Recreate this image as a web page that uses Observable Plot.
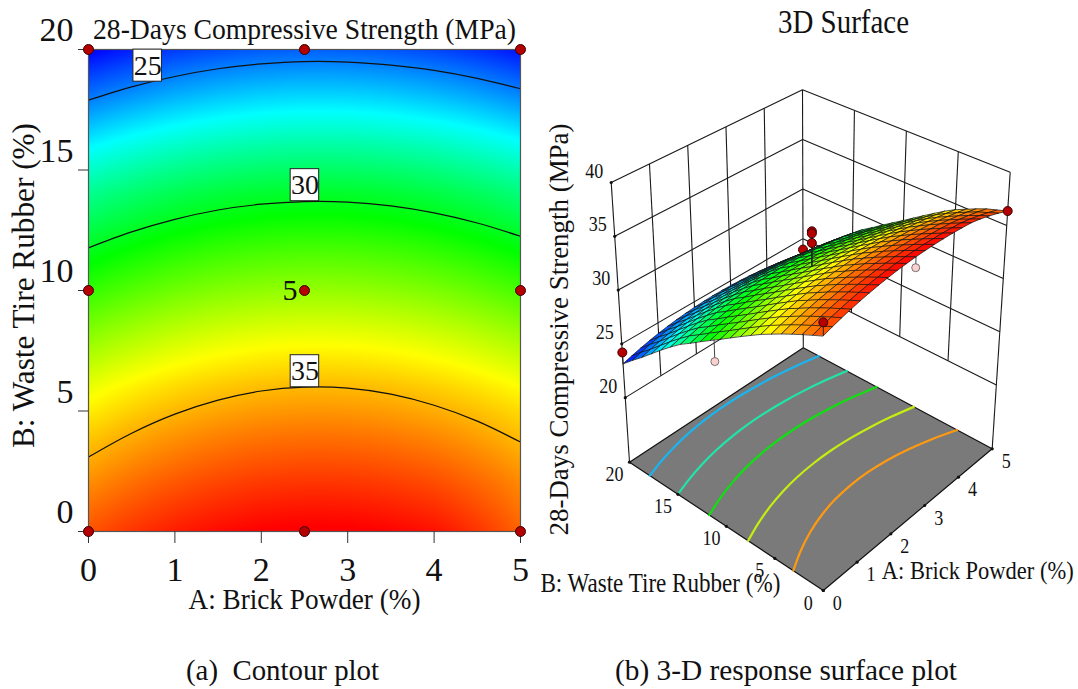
<!DOCTYPE html>
<html>
<head>
<meta charset="utf-8">
<script src="https://cdn.jsdelivr.net/npm/d3@7"></script>
<script src="https://cdn.jsdelivr.net/npm/@observablehq/plot@0.6"></script>
<style>
html,body{margin:0;padding:0;background:#fff}
#stage{position:relative;width:1078px;height:689px;overflow:hidden;font-family:'Liberation Serif',serif;color:#111}
#left,#right{position:absolute;top:0}
#left{left:0}#right{left:540px}
.cap{position:absolute;top:654px;font-size:29px;line-height:32px;white-space:pre;transform-origin:left top}
</style>
</head>
<body>
<div id="stage"><div id="left"></div><div id="right"></div>
<div class="cap" id="capA">(a)  Contour plot</div>
<div class="cap" id="capB">(b) 3-D response surface plot</div></div>
<script>
// ---- data ----
const brickLevels = [0,0.25,0.5,0.75,1,1.25,1.5,1.75,2,2.25,2.5,2.75,3,3.25,3.5,3.75,4,4.25,4.5,4.75,5];
const rubberLevels = [0,1,2,3,4,5,6,7,8,9,10,11,12,13,14,15,16,17,18,19,20];
const strength = [
[36.60,36.85,37.08,37.28,37.46,37.61,37.74,37.84,37.92,37.97,38.00,38.00,37.98,37.93,37.86,37.76,37.64,37.40,37.10,36.75,36.35],
[36.15,36.40,36.63,36.83,37.01,37.16,37.29,37.39,37.47,37.52,37.55,37.55,37.53,37.48,37.41,37.31,37.19,36.97,36.70,36.40,36.05],
[35.69,35.94,36.17,36.37,36.55,36.70,36.83,36.93,37.01,37.06,37.09,37.09,37.07,37.02,36.95,36.85,36.73,36.53,36.30,36.05,35.75],
[35.20,35.45,35.68,35.88,36.06,36.21,36.34,36.44,36.52,36.57,36.60,36.60,36.58,36.53,36.46,36.36,36.24,36.06,35.85,35.62,35.35],
[34.70,34.95,35.18,35.38,35.56,35.71,35.84,35.94,36.02,36.07,36.10,36.10,36.08,36.03,35.96,35.86,35.74,35.57,35.37,35.15,34.90],
[34.15,34.40,34.63,34.83,35.01,35.16,35.29,35.39,35.47,35.52,35.55,35.55,35.53,35.48,35.41,35.31,35.19,35.04,34.87,34.67,34.45],
[33.60,33.85,34.08,34.28,34.46,34.61,34.74,34.84,34.92,34.97,35.00,35.00,34.98,34.93,34.86,34.76,34.64,34.49,34.32,34.12,33.90],
[32.97,33.22,33.45,33.65,33.83,33.98,34.11,34.21,34.29,34.34,34.37,34.37,34.35,34.30,34.23,34.13,34.01,33.86,33.69,33.49,33.27],
[32.33,32.58,32.81,33.01,33.19,33.34,33.47,33.57,33.65,33.70,33.73,33.73,33.71,33.66,33.59,33.49,33.37,33.22,33.05,32.85,32.63],
[31.67,31.92,32.15,32.35,32.53,32.68,32.81,32.91,32.99,33.04,33.07,33.07,33.05,33.00,32.93,32.83,32.71,32.56,32.39,32.19,31.97],
[31.00,31.25,31.48,31.68,31.86,32.01,32.14,32.24,32.32,32.37,32.40,32.40,32.38,32.33,32.26,32.16,32.04,31.89,31.72,31.52,31.30],
[30.35,30.60,30.83,31.03,31.21,31.36,31.49,31.59,31.67,31.72,31.75,31.75,31.73,31.68,31.61,31.51,31.39,31.24,31.07,30.87,30.65],
[29.69,29.94,30.17,30.37,30.55,30.70,30.83,30.93,31.01,31.06,31.09,31.09,31.07,31.02,30.95,30.85,30.73,30.58,30.41,30.21,29.99],
[29.00,29.25,29.48,29.68,29.86,30.01,30.14,30.24,30.32,30.37,30.40,30.40,30.38,30.33,30.26,30.16,30.04,29.89,29.72,29.52,29.30],
[28.35,28.60,28.83,29.03,29.21,29.36,29.49,29.59,29.67,29.72,29.75,29.75,29.73,29.68,29.61,29.51,29.39,29.24,29.07,28.87,28.65],
[27.55,27.80,28.03,28.23,28.41,28.56,28.69,28.79,28.87,28.92,28.95,28.95,28.93,28.88,28.81,28.71,28.59,28.44,28.27,28.07,27.85],
[26.70,26.95,27.18,27.38,27.56,27.71,27.84,27.94,28.02,28.07,28.10,28.10,28.08,28.03,27.96,27.86,27.74,27.59,27.42,27.22,27.00],
[25.80,26.05,26.28,26.48,26.66,26.81,26.94,27.04,27.12,27.17,27.20,27.20,27.18,27.13,27.06,26.96,26.84,26.69,26.52,26.32,26.10],
[24.90,25.15,25.38,25.58,25.76,25.91,26.04,26.14,26.22,26.27,26.30,26.30,26.28,26.23,26.16,26.06,25.94,25.79,25.62,25.42,25.20],
[24.05,24.30,24.53,24.73,24.91,25.06,25.19,25.29,25.37,25.42,25.45,25.45,25.43,25.38,25.31,25.21,25.09,24.94,24.77,24.57,24.35],
[23.15,23.40,23.63,23.83,24.01,24.16,24.29,24.39,24.47,24.52,24.55,24.55,24.53,24.48,24.41,24.31,24.19,24.04,23.87,23.67,23.45]
];
const contourBrick = [0,0.5,1,1.5,2,2.5,3,3.5,4,4.5,5];
const contour25 = [17.9,18.45,18.88,19.2,19.40,19.5,19.48,19.35,19.13,18.80,18.37];
const contour275 = [15.0,15.57,16.02,16.36,16.57,16.67,16.64,16.50,16.25,15.88,15.4];
const contour30 = [11.77,12.43,12.95,13.34,13.58,13.69,13.67,13.51,13.22,12.80,12.25];
const contour325 = [7.75,8.46,9.03,9.45,9.72,9.84,9.82,9.65,9.34,8.89,8.3];
const contour35 = [3.09,4.08,4.87,5.45,5.83,5.99,5.95,5.70,5.24,4.58,3.71];
const designBrick = [0,2.5,5,0,2.5,5,0,2.5,5];
const designRubber = [0,0,0,10,10,10,20,20,20];
const labelLevels = [25,30,35];
const labelBrick = [0.685,2.505,2.505];
const labelRubber = [19.33,14.37,6.65];
const brickTicks = [0,1,2,3,4,5];
const rubberTicks = [0,5,10,15,20];
const strengthTicks = [20,25,30,35,40];
// measured 3-D runs: [A, B, strength]
const runsAbove = [[0,0,37.8],[5,0,36.35],[0,20,24.2],[2.5,10,35.7],[2.5,10,35.5],[2.5,10,34.6]];
const runsBehind = [[5,20,23.9]];
const runsBelow = [[2.5,20,18.2],[2.5,0,37.0]];
const runSurface = [36.6,36.35,23.15,32.4,32.4,32.4];
const runsBelowSurface = [24.55,38.0];
const floorLevels = [25,27.5,30,32.5,35];
const floorColors = ["#1ab4ee","#1fe6a8","#10e010","#c4ee10","#ff9a10"];

// ---- shared colour scale ----
const colorScale = {type:"linear",domain:[23.2,26.8,30.3,33.9,37.9],range:["#0000ff","#00ffff","#00ff00","#ffff00","#ff0000"],interpolate:"rgb",clamp:true};
const serif = "'Liberation Serif',serif";
const cells = strength.flatMap((row,j)=>row.map((v,i)=>({A:brickLevels[i],B:rubberLevels[j],value:v})));
const contours = [[25,contour25],[27.5,contour275],[30,contour30],[32.5,contour325],[35,contour35]];
const contourPts = contours.flatMap(([level,bs])=>bs.map((b,i)=>({level,A:contourBrick[i],B:b})));
const labels = labelLevels.map((level,i)=>({level,A:labelBrick[i],B:labelRubber[i]}));
const design = designBrick.map((A,i)=>({A,B:designRubber[i]}));
const dotStyle = {r:5,fill:"#b40000",stroke:"#3c0000",strokeWidth:1};

// ---- panel (a) ----
const left = Plot.plot({
  width:540,height:620,marginLeft:88,marginRight:20,marginTop:49,marginBottom:89,
  style:{fontFamily:serif,background:"transparent",overflow:"visible",color:"#111"},
  x:{domain:[0,5],label:null},y:{domain:[0,20],label:null},color:colorScale,
  marks:[
    Plot.raster(cells,{x:"A",y:"B",fill:"value",interpolate:"barycentric",pixelSize:1}),
    Plot.line(contourPts.filter(d=>labelLevels.includes(d.level)),{x:"A",y:"B",z:"level",stroke:"#111",strokeWidth:1.2,curve:"catmull-rom"}),
    Plot.frame({stroke:"#555",strokeWidth:1.2}),
    Plot.ruleY(rubberTicks,{y:d=>d,x1:-0.116,x2:0,stroke:"#333"}),
    Plot.axisX(brickTicks,{anchor:"bottom",tickSize:12,tickPadding:13,fontSize:34,stroke:"#333",tickFormat:d=>d}),
    Plot.axisY(rubberTicks,{anchor:"left",tickSize:0,tickPadding:15,dy:-19,fontSize:34,tickFormat:d=>d}),
    Plot.rect(labels,{x1:d=>d.A-0.165,x2:d=>d.A+0.165,y1:d=>d.B-0.665,y2:d=>d.B+0.665,fill:"white",stroke:"#222",strokeWidth:1}),
    Plot.text(labels,{x:"A",y:"B",text:d=>String(d.level),fontSize:28,fill:"#111"}),
    Plot.dot(design,{x:"A",y:"B",...dotStyle}),
    Plot.text(["5"],{x:2.5,y:10,text:d=>d,dx:-7,textAnchor:"end",fontSize:30,fill:"#111"}),
    Plot.text(["28-Days Compressive Strength (MPa)"],{text:d=>d,frameAnchor:"top",lineAnchor:"bottom",dy:-11,fontSize:30,fill:"#111"}),
    Plot.text(["A: Brick Powder (%)"],{text:d=>d,frameAnchor:"bottom",lineAnchor:"bottom",dy:77,fontSize:30,fill:"#111"}),
    Plot.text(["B: Waste Tire Rubber (%)"],{text:d=>d,frameAnchor:"left",textAnchor:"middle",rotate:-90,dx:-64,dy:-5,fontSize:31,fill:"#111"})
  ]
});

// ---- panel (b): box corners on the page, trilinear projection of (A,B,strength) ----
const floorLevel = 14, topLevel = 40;
const cornerFloor = {f:[822.8,590],r:[991.7,448.3],l:[629,461.7],b:[802.8,347.3]};
const cornerTop = {f:[822.8,297],r:[1009.7,171.7],l:[610.7,182],b:[802,89.3]};
function project(A,B,z){
  const a=A/5,b=B/20,c=(z-floorLevel)/(topLevel-floorLevel);
  const mix=(C,k)=>(1-a)*(1-b)*C.f[k]+a*(1-b)*C.r[k]+(1-a)*b*C.l[k]+a*b*C.b[k];
  return {px:mix(cornerFloor,0)*(1-c)+mix(cornerTop,0)*c,py:mix(cornerFloor,1)*(1-c)+mix(cornerTop,1)*c};
}
const quads=[];
for(let j=rubberLevels.length-2;j>=0;j--)for(let i=brickLevels.length-2;i>=0;i--){
  quads.push({rank:brickLevels[i]/5+rubberLevels[j]/20,i,j});
}
quads.sort((p,q)=>q.rank-p.rank);
const quadPts = quads.flatMap((q,n)=>{
  const {i,j}=q;
  const v=(strength[j][i]+strength[j][i+1]+strength[j+1][i]+strength[j+1][i+1])/4;
  return [[i,j],[i+1,j],[i+1,j+1],[i,j+1]].map(([s,t])=>({id:n,value:v,...project(brickLevels[s],rubberLevels[t],strength[t][s])}));
});
const seg=(p,q)=>{const P=project(...p),Q=project(...q);return {x1:P.px,y1:P.py,x2:Q.px,y2:Q.py};};
const wallLines=[
  ...strengthTicks.flatMap(z=>[seg([0,20,z],[5,20,z]),seg([5,20,z],[5,0,z])]),
  ...brickTicks.filter(a=>a>0&&a<5).map(a=>seg([a,20,20],[a,20,topLevel])),
  ...rubberTicks.filter(b=>b>0&&b<20).map(b=>seg([5,b,20],[5,b,topLevel])),
  seg([0,20,floorLevel],[0,20,topLevel]),seg([5,20,floorLevel],[5,20,topLevel]),seg([5,0,floorLevel],[5,0,topLevel])
];
const floorPoly=[[0,0],[5,0],[5,20],[0,20]].map(([A,B])=>project(A,B,floorLevel));
const floorLines=contourPts.map(d=>({level:d.level,...project(d.A,d.B,floorLevel)}));
const stemsBelow=runsBelow.map((r,i)=>seg(r,[r[0],r[1],runsBelowSurface[i]]));
const stemsAbove=runsAbove.map((r,i)=>seg(r,[r[0],r[1],runSurface[i]]));
const pr=rs=>rs.map(r=>project(...r));
const tickDots=[
  ...strengthTicks.map(z=>project(0,20,z)),
  ...brickTicks.map(a=>project(a,0,floorLevel)),
  ...rubberTicks.map(b=>project(0,b,floorLevel))
];
const tl=(vals,fn,dx,dy)=>Plot.text(vals.map(v=>({t:String(v),...fn(v)})),{x:"px",y:"py",text:"t",dx,dy,fontSize:22,fill:"#111",className:"condensed"});
const anchorB=project(0,10,floorLevel), anchorA=project(2.5,0,floorLevel);

const right = Plot.plot({
  width:538,height:620,marginLeft:0,marginRight:0,marginTop:0,marginBottom:0,
  style:{fontFamily:serif,background:"transparent",overflow:"visible",color:"#111"},
  x:{domain:[540,1078],range:[0,538],axis:null},y:{domain:[0,620],range:[0,620],axis:null},
  color:colorScale,
  marks:[
    Plot.link(wallLines,{x1:"x1",y1:"y1",x2:"x2",y2:"y2",stroke:"#1a1a1a",strokeWidth:1.1}),
    Plot.line(floorPoly,{x:"px",y:"py",curve:"linear-closed",fill:"#7a7a7a",stroke:"#111",strokeWidth:1.2}),
    Plot.line(floorLines,{x:"px",y:"py",z:"level",stroke:d=>floorColors[floorLevels.indexOf(d.level)],strokeWidth:2.2,curve:"catmull-rom"}),
    Plot.dot(tickDots,{x:"px",y:"py",r:1.6,fill:"#111"}),
    Plot.link(stemsBelow,{x1:"x1",y1:"y1",x2:"x2",y2:"y2",stroke:"#444",strokeWidth:1}),
    Plot.dot(pr(runsBelow),{x:"px",y:"py",r:4,fill:"#fbd0d0",stroke:"#555",strokeWidth:.8}),
    Plot.dot(pr(runsBehind),{x:"px",y:"py",...dotStyle,r:4.5}),
    Plot.line(quadPts,{x:"px",y:"py",z:"id",fill:"value",stroke:"#111",strokeWidth:.7,curve:"linear-closed"}),
    Plot.link(stemsAbove,{x1:"x1",y1:"y1",x2:"x2",y2:"y2",stroke:"#222",strokeWidth:1}),
    Plot.dot(pr(runsAbove),{x:"px",y:"py",...dotStyle,r:4.5}),
    tl(strengthTicks,z=>project(0,20,z),-17,-12),
    tl(rubberTicks,b=>project(0,b,floorLevel),-15,12),
    tl(brickTicks,a=>project(a,0,floorLevel),14,12),
    Plot.text(["3D Surface"],{text:d=>d,frameAnchor:"top",lineAnchor:"bottom",dx:34,dy:32,fontSize:33,fill:"#111"}),
    Plot.text(["28-Days Compressive Strength (MPa)"],{text:d=>d,frameAnchor:"left",textAnchor:"middle",rotate:-90,dx:19,dy:19,fontSize:27,fill:"#111"}),
    Plot.text([anchorB],{x:"px",y:"py",text:()=>"B: Waste Tire Rubber (%)",dx:-66,dy:57,fontSize:27,fill:"#111"}),
    Plot.text([anchorA],{x:"px",y:"py",text:()=>"A: Brick Powder (%)",dx:70,dy:51,fontSize:25,fill:"#111"})
  ]
});
document.getElementById("left").append(left);
document.getElementById("right").append(right);

// ---- condense the serif text to the reference widths ----
const leftWidths={"28-Days Compressive Strength (MPa)":423,"A: Brick Powder (%)":232,"B: Waste Tire Rubber (%)":325};
const rightWidths={"28-Days Compressive Strength (MPa)":412,"A: Brick Powder (%)":192,"B: Waste Tire Rubber (%)":240,"3D Surface":131};
function fit(svg,widths){
  svg.querySelectorAll("text").forEach(t=>{
    const w=widths[t.textContent];
    if(w){t.setAttribute("textLength",w);t.setAttribute("lengthAdjust","spacingAndGlyphs");}
    else if(t.closest(".condensed")){t.setAttribute("textLength",t.getComputedTextLength()*0.82);t.setAttribute("lengthAdjust","spacingAndGlyphs");}
  });
}
fit(left,leftWidths);fit(right,rightWidths);
const capFit=(id,x,w)=>{const el=document.getElementById(id);el.style.left=x+"px";const nat=el.getBoundingClientRect().width;el.style.transform=`scaleX(${w/nat})`;};
capFit("capA",186,193);capFit("capB",615,342);
</script>
</body>
</html>
